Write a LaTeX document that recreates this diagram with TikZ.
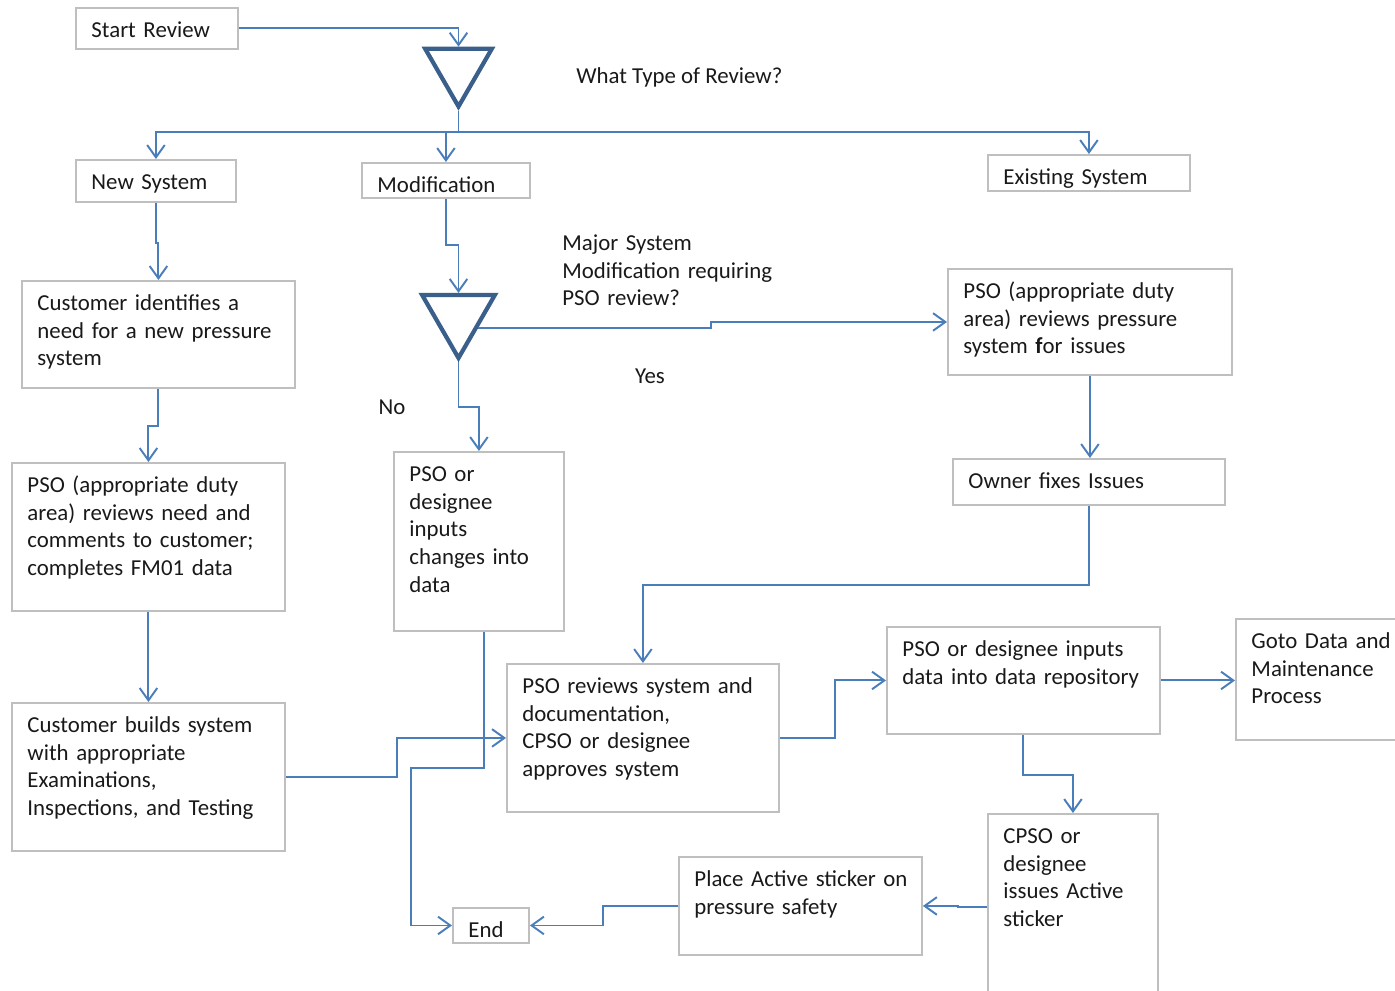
\documentclass[tikz,border=0pt]{standalone}
\usepackage{fontspec}
\setmainfont{Carlito}
\usetikzlibrary{arrows.meta,shapes.geometric}
\definecolor{flowblue}{HTML}{4A7EBB}
\definecolor{boxgray}{HTML}{BFBFBF}
\definecolor{tridark}{HTML}{3A5F8B}
\tikzset{
    every node/.style={font=\fontsize{13}{15.8}\selectfont, text=black!90},
    pbox/.style={draw=boxgray, line width=1.1pt, anchor=north west, align=left,
        inner xsep=0.31cm, inner ysep=0pt, text height=0.59cm},
    qtext/.style={anchor=north west, align=left, inner sep=0pt, text height=0.59cm},
    decide/.style={draw=tridark, line width=2.4pt, regular polygon, regular polygon sides=3,
        shape border rotate=180, inner sep=0pt},
    flow/.style={draw=flowblue, line width=1.1pt, -{Straight Barb[length=7pt,width=10pt]}}
}
\begin{document}
\begin{tikzpicture}[x=0.02cm, y=-0.02cm]
        \useasboundingbox (0,0) rectangle (1395,990);
        \node[pbox, text width=2.62cm, text depth=0.23cm] (start) at (75,7) {Start Review};
        \node[decide, minimum size=1.54cm] (tri1) at (458.5,68) {};
        \node[anchor=base west, inner sep=0pt] (qtype) at (576,84) {What Type of Review?};
        \coordinate (bus) at (458.5,132);
        \node[pbox, text width=2.58cm, text depth=0.25cm] (newsys) at (75,159) {New System};
        \node[pbox, text width=2.74cm, text depth=0.11cm] (modif) at (361,162) {Modification};
        \node[pbox, text width=3.42cm, text depth=0.13cm] (exist) at (987,154) {Existing System};
        \node[pbox, text width=4.84cm, text depth=1.55cm] (cust1) at (21,280)
            {Customer identifies a\\need for a new pressure\\system};
        \node[decide, minimum size=1.68cm] (tri2) at (458.5,316) {};
        \node[qtext, text width=4.6cm] (qmajor) at (562,220.5) {Major System\\Modification requiring\\PSO review?};
        \node (lyes) at (650,376) {Yes};
        \node (lno) at (392,407) {No};
        \node[pbox, text width=5.06cm, text depth=1.53cm] (pso1) at (947,268)
            {PSO (appropriate duty\\area) reviews pressure\\system \textbf{f}or issues};
        \node[pbox, text width=4.84cm, text depth=2.37cm] (pso2) at (11,462)
            {PSO (appropriate duty\\area) reviews need and\\comments to customer;\\completes FM01 data};
        \node[pbox, text width=2.78cm, text depth=2.99cm] (psoin) at (393,451)
            {PSO or\\designee\\inputs\\changes into\\data};
        \node[pbox, text width=4.82cm, text depth=0.33cm] (owner) at (952,458) {Owner fixes Issues};
        \node[pbox, text width=4.84cm, text depth=2.37cm] (build) at (11,702)
            {Customer builds system\\with appropriate\\Examinations,\\Inspections, and Testing};
        \node[pbox, text width=4.82cm, text depth=2.37cm] (review) at (506,663)
            {PSO reviews system and\\documentation,\\CPSO or designee\\approves system};
        \node[pbox, text width=4.84cm, text depth=1.55cm] (datain) at (886,626)
            {PSO or designee inputs\\data into data repository};
        \node[pbox, text width=3.2cm, text depth=1.83cm] (goto) at (1235,618)
            {Goto Data and\\Maintenance\\Process};
        \node[pbox, text width=2.78cm, text depth=3.15cm] (cpso) at (987,813)
            {CPSO or\\designee\\issues Active\\sticker};
        \node[pbox, text width=4.24cm, text depth=1.37cm] (place) at (678,856)
            {\mbox{Place Active sticker on}\\pressure safety};
        \node[pbox, text width=0.9cm, text depth=0.11cm] (end) at (452,907) {End};
        \draw[flow] (start.east) -| (tri1.north);
        \draw[flow] (tri1.south) -- (bus) -| (newsys.north);
        \draw[flow] (bus) -| (modif.north);
        \draw[flow] (bus) -| (exist.north);
        \draw[flow] (newsys.south) -- ++(0,40) -| (cust1.north);
        \draw[flow] (modif.south) -- ++(0,46) -| (tri2.north);
        \draw[flow] (tri2.-32) -- ++(233,0) |- (pso1.west);
        \draw[flow] (tri2.south) -- ++(0,45) -| (psoin.north);
        \draw[flow] (cust1.south) -- ++(0,37) -| (pso2.north);
        \draw[flow] (pso2.south) -- ++(0,45) -| (build.north);
        \draw[flow] (build.east) -- ++(111,0) |- (review.west);
        \draw[flow] ([xshift=0.1cm]psoin.south) |- (411,768) |- (end.west);
        \draw[flow] (pso1.south) -- (pso1.south |- owner.north);
        \draw[flow] (owner.south) -- ++(0,79) -| (review.north);
        \draw[flow] (review.east) -- ++(55,0) |- (datain.west);
        \draw[flow] (datain.east) -- (datain.east -| goto.west);
        \draw[flow] (datain.south) -- ++(0,40) -| (cpso.north);
        \draw[flow] (cpso.west) -- ++(-29,0) |- (place.east);
        \draw[flow] (place.west) -- ++(-75,0) |- (end.east);
\end{tikzpicture}
\end{document}
